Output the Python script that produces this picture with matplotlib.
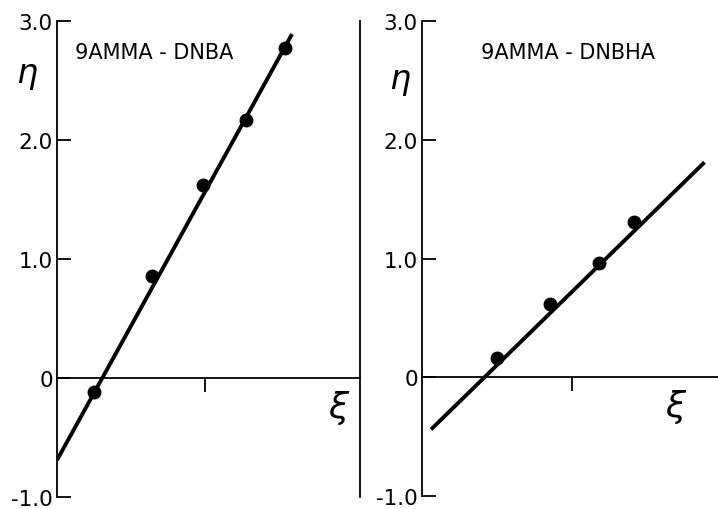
import matplotlib.pyplot as plt

# data (xi in units of the single x tick)
titles = ['9AMMA - DNBA', '9AMMA - DNBHA']

xi_dnba = [0.25, 0.64, 0.99, 1.28, 1.54]
eta_dnba = [-0.12, 0.86, 1.62, 2.17, 2.77]
fit_x_dnba = [0.0, 1.59]
fit_y_dnba = [-0.69, 2.89]

xi_dnbha = [0.50, 0.85, 1.18, 1.41]
eta_dnbha = [0.16, 0.62, 0.96, 1.31]
fit_x_dnbha = [0.06, 1.88]
fit_y_dnbha = [-0.44, 1.81]

yticks = [-1.0, 0.0, 1.0, 2.0, 3.0]
ytick_labels = ['-1.0', '0', '1.0', '2.0', '3.0']

plt.rcParams['font.family'] = ['DejaVu Sans']

fig = plt.figure(figsize=(7.18, 5.10), dpi=100)
ax1 = fig.add_axes([57/718, 12/510, 303/718, 476/510])
ax2 = fig.add_axes([422/718, 13/510, 296/718, 475/510])

panels = [
    (ax1, xi_dnba, eta_dnba, fit_x_dnba, fit_y_dnba, titles[0], 2.05),
    (ax2, xi_dnbha, eta_dnbha, fit_x_dnbha, fit_y_dnbha, titles[1], 1.97),
]

for ax, xs, ys, fx, fy, title, xmax in panels:
    ax.set_xlim(0, xmax)
    ax.set_ylim(-1.0, 3.0)
    ax.plot(fx, fy, color='black', lw=2.8, solid_capstyle='butt')
    ax.plot(xs, ys, 'o', color='black', ms=9)

    for s in ['top', 'right']:
        ax.spines[s].set_visible(False)
    ax.spines['left'].set_linewidth(1.3)
    ax.spines['bottom'].set_position(('data', 0))
    ax.spines['bottom'].set_linewidth(1.3)

    ax.set_yticks(yticks)
    ax.set_yticklabels(ytick_labels)
    ax.set_xticks([1.0])
    ax.set_xticklabels([])
    ax.tick_params(axis='y', direction='in', length=10, width=1.3, pad=3, labelsize=15.5)
    ax.tick_params(axis='x', direction='out', length=10, width=1.3)

    ax.text(0.06 if ax is ax1 else 0.2, 0.935, title, transform=ax.transAxes,
            fontsize=15, ha='left', va='center')
    ax.text(0.93 if ax is ax1 else 0.86, 0.19, r'$\xi$', transform=ax.transAxes,
            fontsize=26, ha='center', va='center')

# eta labels beside the y axes
fig.text(27/718, 1 - 75/510, r'$\eta$', fontsize=24, ha='center', va='center')
fig.text(400/718, 1 - 82/510, r'$\eta$', fontsize=24, ha='center', va='center')

# separator line between panels = right spine of left panel
ax1.spines['right'].set_visible(True)
ax1.spines['right'].set_linewidth(1.3)

fig.savefig('out.png', dpi=100)
